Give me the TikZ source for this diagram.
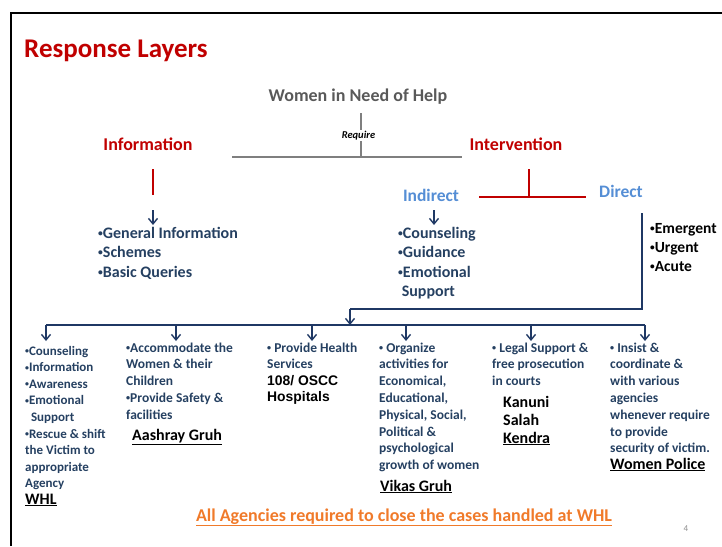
\documentclass[tikz,border=0pt]{standalone}
\usepackage{fontspec}
\usepackage{graphicx}
\setmainfont{Carlito}
\newfontfamily\arialfont{Liberation Sans}
\usetikzlibrary{arrows.meta}
\definecolor{titlered}{HTML}{C00000}
\definecolor{helpgray}{HTML}{595959}
\definecolor{linegray}{HTML}{7F7F7F}
\definecolor{lightblue}{HTML}{558ED5}
\definecolor{navy}{HTML}{1F3864}
\definecolor{listnavy}{HTML}{254061}
\definecolor{orangetxt}{HTML}{F07A2A}
\newcommand{\bul}{\raisebox{0.12em}{\scalebox{0.6}{\textbullet}}}
\begin{document}
\begin{tikzpicture}[x=1pt,y=-1pt,
  lbl/.style={inner sep=0pt, anchor=base},
  lft/.style={inner sep=0pt, anchor=base west},
  head/.style={lbl, text=titlered, font=\bfseries\fontsize{18}{21}\selectfont},
  sub/.style={lbl, text=lightblue, font=\bfseries\fontsize{17.5}{20}\selectfont},
  lst/.style={lft, align=left, text=listnavy, font=\bfseries\fontsize{16}{19.5}\selectfont},
  col/.style={lft, align=left, text=listnavy, font=\bfseries\fontsize{13.5}{16.8}\selectfont},
  agency/.style={lft, align=left, text=black, font=\bfseries\fontsize{16}{18}\selectfont},
  grayline/.style={draw=linegray, line width=1.6pt},
  redline/.style={draw=titlered, line width=1.6pt},
  navyline/.style={draw=navy, line width=1.6pt},
  arr/.style={navyline, -{Straight Barb[length=5.5pt,width=9pt,line width=1.4pt]}},
]
\useasboundingbox (0,0) rectangle (722,546);
% frame
\draw[line width=2pt] (11,546) -- (11,13) -- (722,13);
% title
\node[lft, text=titlered, font=\bfseries\fontsize{27}{30}\selectfont] (title) at (24,57) {Response Layers};
% top
\node[lbl, text=helpgray, font=\bfseries\fontsize{18}{20}\selectfont] (help) at (358,101) {Women in Need of Help};
\coordinate (reqtop) at (361,113);
\coordinate (reqL) at (232,157);
\coordinate (reqR) at (462,157);
\draw[grayline] (reqtop) -- (reqtop|-reqL);
\draw[grayline] (reqL) -- (reqR);
\node[lbl, fill=white, inner sep=1pt, font=\bfseries\itshape\fontsize{10.5}{12}\selectfont] (req) at (358.5,138) {Require};
\node[head] (info) at (148,150) {Information};
\node[head] (interv) at (516,150) {Intervention};
% information branch
\coordinate (infoA) at (153,169);
\coordinate (infoB) at (153,195);
\draw[redline] (infoA) -- (infoB);
\coordinate (infoArrA) at (153,210);
\coordinate (infoArrB) at (153,225);
\draw[arr] (infoArrA) -- (infoArrB);
\node[lst] (infolist) at (98,277) {\bul General Information\\\bul Schemes\\\bul Basic Queries};
% intervention branch
\coordinate (intA) at (529,169);
\coordinate (intB) at (529,197);
\coordinate (dirL) at (479,197);
\coordinate (dirR) at (586,197);
\draw[redline] (intA) -- (intB);
\draw[redline] (dirL) -- (dirR);
\node[sub] (indirect) at (431,201) {Indirect};
\node[sub] (direct) at (621,197) {Direct};
\coordinate (indArrA) at (434,210);
\coordinate (indArrB) at (434,225);
\draw[arr] (indArrA) -- (indArrB);
\node[lst] (indlist) at (398,296.5) {\bul Counseling\\\bul Guidance\\\bul Emotional\\\ Support};
\node[lft, align=left, text=black, font=\bfseries\fontsize{15.5}{19}\selectfont] (dirlist) at (650,271) {\bul Emergent\\\bul Urgent\\\bul Acute};
% direct to agencies
\coordinate (dirTop) at (642,213);
\coordinate (dirBot) at (642,309);
\coordinate (drop) at (350,309);
\coordinate (busMid) at (350,325);
\draw[navyline] (dirTop) -- (dirBot) -- (drop);
\draw[arr] (drop) -- (busMid);
\coordinate (busL) at (46,325);
\coordinate (busR) at (645,325);
\draw[navyline] (busL) -- (busR);
\foreach \n/\x in {a/46,b/176,c/312,d/406,e/531,f/645}{
  \coordinate (bus\n) at (\x,325);
  \draw[arr] (bus\n) -- (\x,341);
}
% columns
\node[col, font=\bfseries\fontsize{13}{16.6}\selectfont] (c1) at (25,487.8) {\bul Counseling\\\bul Information\\\bul Awareness\\\bul Emotional\\\ \ Support\\\bul Rescue \& shift\\the Victim to\\appropriate\\Agency};
\node[agency] (whl) at (25,504) {\underline{WHL}};
\node[col] (c2) at (126,419.2) {\bul Accommodate the\\Women \& their\\Children\\\bul Provide Safety \&\\facilities};
\node[agency] (aashray) at (132,440) {\underline{Aashray Gruh}};
\node[col] (c3) at (267,368.8) {\bul\ Provide Health\\Services};
\node[lft, align=left, text=black, font=\arialfont\bfseries\fontsize{13.9}{16}\selectfont] (hosp) at (267,401) {108/ OSCC\\Hospitals};
\node[col] (c4) at (379,469.6) {\bul\ Organize\\activities for\\Economical,\\Educational,\\Physical, Social,\\Political \&\\psychological\\growth of women};
\node[agency] (vikas) at (380,491) {\underline{Vikas Gruh}};
\node[col] (c5) at (492,385.6) {\bul\ Legal Support \&\\free prosecution\\in courts};
\node[agency] (kanuni) at (503,443) {Kanuni\\Salah\\\underline{Kendra}};
\node[col] (c6) at (610,452.8) {\bul\ Insist \&\\coordinate \&\\with various\\agencies\\whenever require\\to provide\\security of victim.};
\node[agency] (police) at (610,469) {\underline{Women Police}};
% footer
\node[lbl, text=orangetxt, font=\bfseries\fontsize{18}{20}\selectfont] (footer) at (404,521) {\underline{All Agencies required to close the cases handled at WHL}};
\node[lbl, text=black!45, font=\fontsize{9}{11}\selectfont] (pagenum) at (686,531) {4};
\end{tikzpicture}
\end{document}
